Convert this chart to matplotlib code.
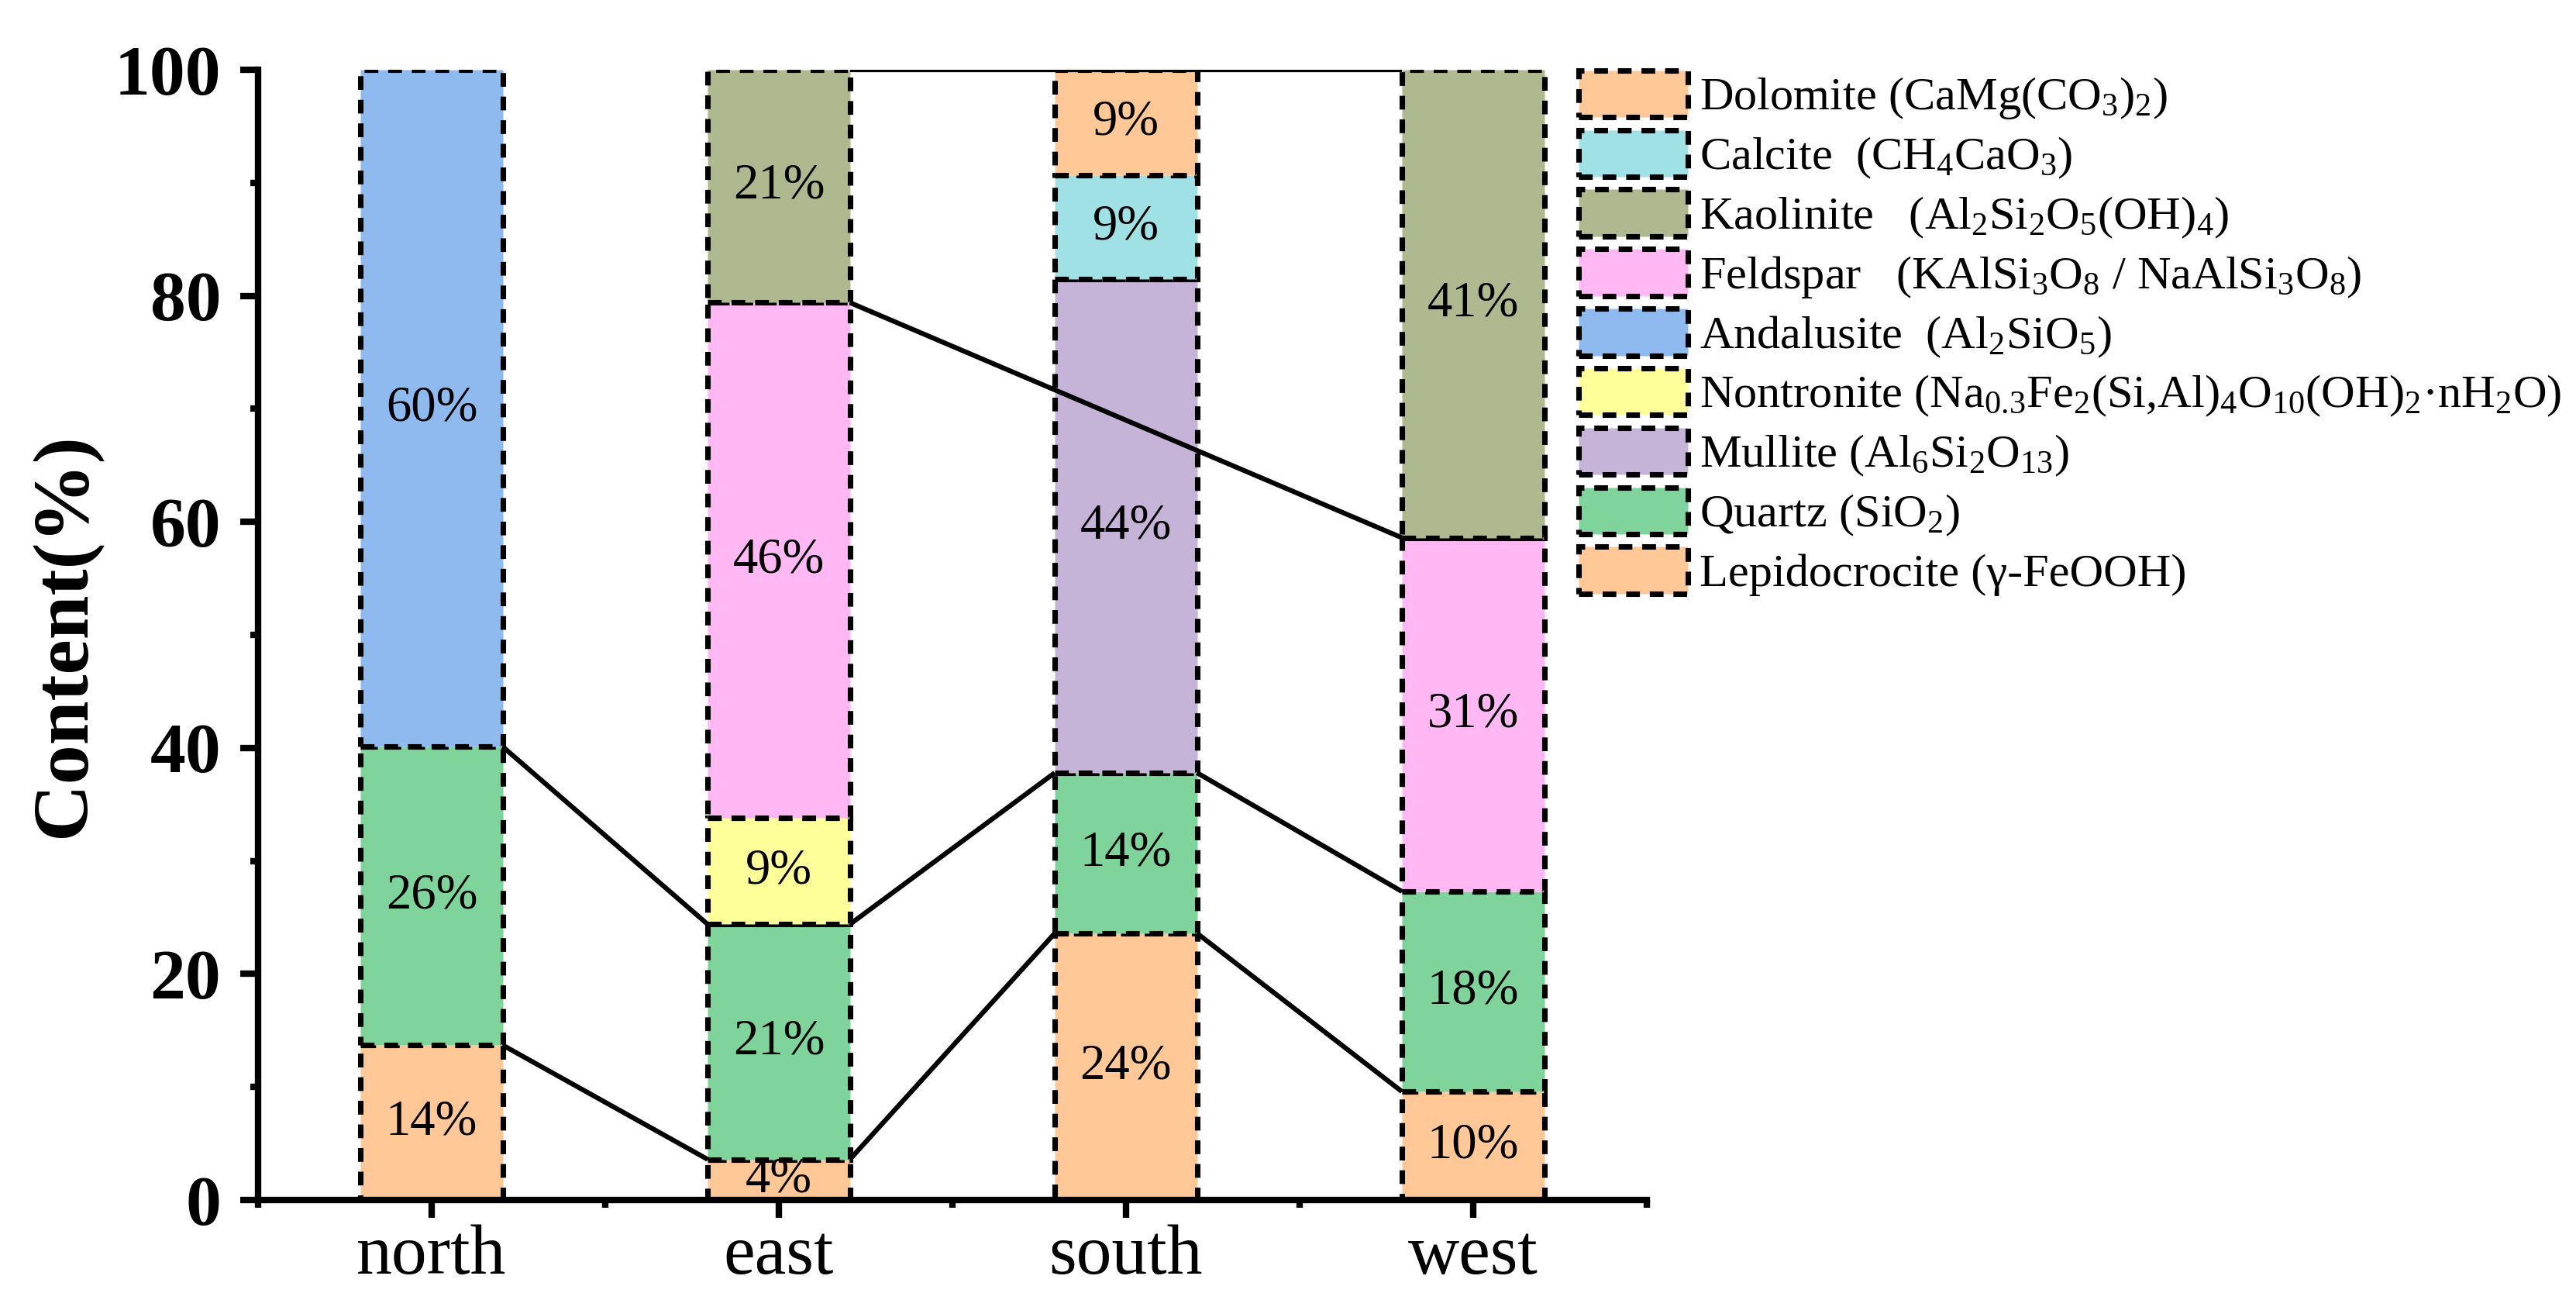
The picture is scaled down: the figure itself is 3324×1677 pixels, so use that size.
import matplotlib
matplotlib.use("Agg")
import matplotlib.pyplot as plt
from matplotlib.ticker import MultipleLocator, FixedLocator

plt.rcParams['font.family'] = ['Liberation Serif', 'DejaVu Serif']
plt.rcParams['mathtext.fontset'] = 'custom'
plt.rcParams['mathtext.rm'] = 'Liberation Serif'
plt.rcParams['mathtext.it'] = 'Liberation Serif'
plt.rcParams['mathtext.bf'] = 'Liberation Serif:bold'
plt.rcParams['mathtext.default'] = 'regular'

# ---- data ----
sites = ["north", "east", "south", "west"]
lepidocrocite = [13.7, 3.6, 23.6, 9.6]
quartz = [26.4, 20.8, 14.2, 17.7]
mullite = [0, 0, 43.7, 0]
nontronite = [0, 9.4, 0, 0]
andalusite = [59.9, 0, 0, 0]
feldspar = [0, 45.6, 0, 31.3]
kaolinite = [0, 20.6, 0, 41.4]
calcite = [0, 0, 9.2, 0]
dolomite = [0, 0, 9.3, 0]

series_names = [
    "Lepidocrocite (γ-FeOOH)",
    "Quartz (SiO$_2$)",
    "Mullite (Al$_6$Si$_2$O$_{13}$)",
    "Nontronite (Na$_{0.3}$Fe$_2$(Si,Al)$_4$O$_{10}$(OH)$_2$·nH$_2$O)",
    "Andalusite  (Al$_2$SiO$_5$)",
    "Feldspar   (KAlSi$_3$O$_8$ / NaAlSi$_3$O$_8$)",
    "Kaolinite   (Al$_2$Si$_2$O$_5$(OH)$_4$)",
    "Calcite  (CH$_4$CaO$_3$)",
    "Dolomite (CaMg(CO$_3$)$_2$)",
]
series_values = [lepidocrocite, quartz, mullite, nontronite, andalusite,
                 feldspar, kaolinite, calcite, dolomite]
series_colors = ["#FFC896", "#7FD49B", "#C6B3D8", "#FFFF99", "#8FBAF0",
                 "#FFB8F4", "#AFB98F", "#A0E1E6", "#FFC896"]

# ---- figure ----
fig = plt.figure(figsize=(11.08, 5.59), dpi=300)
ax = fig.add_axes([0.1002, 0.0769, 0.5390, 0.8694])

xpos = list(range(len(sites)))
width = 0.41
dash = (0, (2.5, 1.8))

bottoms = [0.0] * len(sites)
handles = []
tops_all = []
for name, vals, col in zip(series_names, series_values, series_colors):
    xs = [x for x, v in zip(xpos, vals) if v > 0]
    hs = [v for v in vals if v > 0]
    bs = [b for b, v in zip(bottoms, vals) if v > 0]
    bc = ax.bar(xs, hs, bottom=bs, width=width, color=col, edgecolor='black',
                linestyle=dash, linewidth=1.7, label=name, zorder=2)
    handles.append(bc)
    for x, h, b in zip(xs, hs, bs):
        ax.text(x, b + h / 2, f"{round(h)}%", ha='center', va='center',
                fontsize=15.5, zorder=5)
    tops = [(x, b + h) for x, h, b in zip(xs, hs, bs)]
    tops_all.append(tops)
    bottoms = [b + v for b, v in zip(bottoms, vals)]

# connecting lines between same-series tops
for tops in tops_all:
    for (x0, y0), (x1, y1) in zip(tops[:-1], tops[1:]):
        ax.plot([x0 + width / 2, x1 - width / 2], [y0, y1], color='black',
                linewidth=1.5, zorder=4, solid_capstyle='butt')

ax.set_xlim(-0.5, 3.5)
ax.set_ylim(0, 100)
ax.set_xticks(xpos)
ax.set_xticklabels(sites, fontsize=22)
ax.xaxis.set_minor_locator(FixedLocator([-0.5, 0.5, 1.5, 2.5, 3.5]))
ax.yaxis.set_major_locator(MultipleLocator(20))
ax.yaxis.set_minor_locator(MultipleLocator(10))
for lab in ax.get_yticklabels():
    lab.set_fontsize(22)
    lab.set_fontweight('bold')
ax.tick_params(axis='both', which='major', direction='out', length=5.5, width=2)
ax.tick_params(axis='both', which='minor', direction='out', length=2.5, width=2)
ax.tick_params(axis='y', which='major', pad=6)
ax.tick_params(axis='x', which='major', pad=2)

for s in ['top', 'right']:
    ax.spines[s].set_visible(False)
for s in ['left', 'bottom']:
    ax.spines[s].set_linewidth(2)

ax.set_ylabel("Content(%)", fontsize=24.5, fontweight='bold', labelpad=4)

leg = fig.legend(handles[::-1], series_names[::-1], loc='upper left',
                 bbox_to_anchor=(0.6128, 0.946), frameon=False, fontsize=14.5,
                 handlelength=2.33, handleheight=1.16, labelspacing=0.19,
                 handletextpad=0.25, borderpad=0, borderaxespad=0)

fig.savefig("out.png", dpi=300)
